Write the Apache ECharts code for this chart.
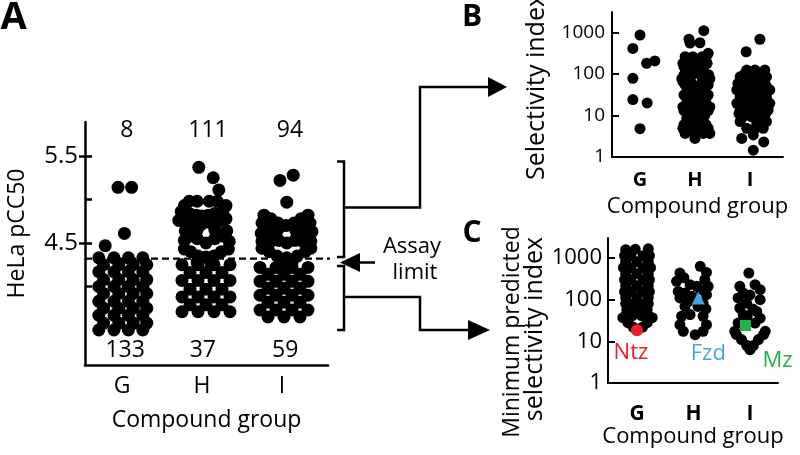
<!DOCTYPE html>
<html><head><meta charset="utf-8">
<script src="https://cdn.jsdelivr.net/npm/echarts@6/dist/echarts.min.js"></script>
<style>html,body{margin:0;padding:0;background:#fff}#c{width:800px;height:455px}</style>
</head><body><div id="c"></div>
<script>
// ---------- data ----------
const groups = ['G', 'H', 'I'];
const assayLimit = 4.32;
const countsAbove = [8, 111, 94];
const countsBelow = [133, 37, 59];
const pTicks = [4.0, 4.5, 5.0, 5.5];
const pLabels = [4.5, 5.5];
const logTicks = [10, 100, 1000];
const logLabels = [1, 10, 100, 1000];

// Panel A: HeLa pCC50, [x position within group swarm, pCC50]
const pcc50_G = [[0.71,4.33],[0.90,4.33],[1.08,4.33],[1.26,4.33],
[0.77,4.25],[0.96,4.25],[1.14,4.25],[1.31,4.25],
[0.71,4.17],[0.90,4.17],[1.08,4.17],[1.26,4.17],
[0.77,4.08],[0.96,4.08],[1.14,4.08],[1.31,4.08],
[0.71,4.00],[0.90,4.00],[1.08,4.00],[1.26,4.00],
[0.77,3.92],[0.96,3.92],[1.14,3.92],[1.31,3.92],
[0.71,3.83],[0.90,3.83],[1.08,3.83],[1.26,3.83],
[0.77,3.75],[0.96,3.75],[1.14,3.75],[1.31,3.75],
[0.71,3.67],[0.90,3.67],[1.08,3.67],[1.26,3.67],
[0.77,3.58],[0.96,3.58],[1.14,3.58],[1.31,3.58],
[0.71,3.50],[0.90,3.50],[1.08,3.50],[1.26,3.50],
[0.95,5.14],[1.12,5.14],[1.03,4.61],[0.79,4.47]];

const pcc50_H = [[1.96,5.37],[2.14,5.25],[2.21,5.11],
[1.84,4.98],[1.94,4.98],[2.09,4.98],[2.19,4.98],
[1.78,4.93],[2.30,4.93],
[1.74,4.86],[1.84,4.84],[1.93,4.82],[2.00,4.81],[2.08,4.82],[2.16,4.84],[2.26,4.86],
[1.79,4.75],[1.89,4.73],[2.00,4.72],[2.11,4.73],[2.21,4.75],[1.71,4.76],[2.30,4.78],
[1.94,4.65],[2.16,4.65],[1.94,4.55],[2.16,4.55],[2.05,4.50],[1.79,4.64],[2.31,4.64],[1.78,4.53],[2.34,4.52],[1.85,4.58],[2.26,4.58],
[1.78,4.43],[1.86,4.40],[1.95,4.35],[2.05,4.34],[2.15,4.35],[2.24,4.40],[2.33,4.43],
[1.94,4.28],[2.11,4.28],
[1.75,4.25],[1.95,4.25],[2.15,4.25],[2.35,4.25],
[1.85,4.16],[2.05,4.16],[2.25,4.16],
[1.75,4.07],[1.95,4.07],[2.15,4.07],[2.35,4.07],
[1.85,3.97],[2.05,3.97],[2.25,3.97],
[1.75,3.88],[1.95,3.88],[2.15,3.88],[2.35,3.88],
[1.85,3.79],[2.05,3.79],[2.25,3.79],
[1.75,3.71],[1.95,3.71],[2.15,3.71],[2.35,3.71]];

const pcc50_I = [[2.975,5.22],[3.14,5.28],[3.06,4.97],
[2.775,4.82],[2.86,4.78],[2.95,4.73],[3.05,4.70],[3.15,4.73],[3.24,4.78],[3.325,4.82],
[2.75,4.73],[2.84,4.68],[2.94,4.64],[3.175,4.64],[3.26,4.68],[3.35,4.73],
[2.74,4.61],[2.825,4.58],[3.30,4.59],[3.375,4.63],[2.75,4.52],[2.86,4.52],[2.96,4.53],[3.16,4.53],[3.26,4.52],[3.36,4.52],[3.06,4.50],
[2.75,4.44],[2.84,4.40],[2.94,4.35],[3.06,4.33],[3.19,4.35],[3.29,4.40],[3.36,4.44],
[3.0,4.27],[3.125,4.27],
[2.725,4.22],[2.925,4.22],[3.125,4.22],[3.325,4.22],
[2.825,4.14],[3.025,4.14],[3.225,4.14],
[2.725,4.06],[2.925,4.06],[3.125,4.06],[3.325,4.06],
[2.825,3.98],[3.025,3.98],[3.225,3.98],
[2.725,3.90],[2.925,3.90],[3.125,3.90],[3.325,3.90],
[2.825,3.82],[3.025,3.82],[3.225,3.82],
[2.725,3.73],[2.925,3.73],[3.125,3.73],[3.325,3.73],
[2.825,3.65],[3.025,3.65],[3.225,3.65]];

// Panel B: selectivity index
const si_G = [[1.0,860],[0.87,410],[1.12,180],[1.27,205],[0.87,78],[0.87,24],[1.13,20],[1.0,4.8]];
const si_H = [[2.16,1090],[1.89,680],[1.91,550],[2.09,560],[2.24,311],
[1.82,258],[1.96,258],[2.13,258],
[1.87,210],[2.05,210],[2.20,210],
[1.78,179],[1.91,179],[2.09,179],[2.22,179],
[1.80,150],[1.96,150],[2.15,150],
[1.85,123],[2.0,123],[2.15,123],
[1.80,95],[1.95,95],[2.10,95],[2.25,95],
[1.76,77],[1.87,77],[2.18,77],[2.27,77],
[1.78,65],[1.92,65],[2.13,65],
[1.82,54],[1.96,54],[2.09,54],[2.24,54],
[1.90,44],[2.02,44],[2.14,44],
[1.85,37],[2.04,37],[2.18,37],
[1.80,31],[2.24,31],
[1.91,26],[2.05,26],[2.18,26],
[1.85,20],[2.0,20],[2.2,20],
[1.78,16],[1.95,16],[2.15,16],[2.27,16],
[1.80,13],[1.95,13],[2.10,13],[2.24,13],
[1.87,10.2],[2.04,10.2],[2.18,10.2],
[1.85,8.5],[2.15,8.5],
[1.96,7.1],[2.09,7.1],
[1.80,6],[2.0,6],[2.2,6],
[1.78,4.9],[1.91,4.9],[2.09,4.9],[2.24,4.9],
[1.95,4.2],[2.1,4.2],
[1.82,3.7],[2.15,3.7],[2.27,3.7],
[2.0,2.8]];
const si_I = [[3.18,680],[2.93,340],
[2.94,123],[3.09,123],[3.27,123],
[2.90,100],[3.20,100],
[2.82,85],[3.0,85],[3.18,85],[3.30,85],
[2.85,70],[3.05,70],[3.22,70],
[2.78,59],[2.94,59],[3.12,59],[3.27,59],
[2.85,50],[3.05,50],[3.30,50],
[2.76,41],[2.91,41],[3.21,41],[3.36,41],
[2.90,34],[3.08,34],[3.24,34],
[2.82,28],[3.0,28],[3.15,28],[3.30,28],
[2.85,24],[3.05,24],[3.20,24],
[2.76,19.5],[2.91,19.5],[3.09,19.5],[3.27,19.5],[3.36,19.5],
[2.88,16],[3.05,16],[3.22,16],
[2.82,13.5],[2.96,13.5],[3.18,13.5],[3.33,13.5],
[2.80,11],[3.10,11],[3.28,11],
[2.87,9.3],[3.03,9.3],[3.24,9.3],
[2.82,7.1],[3.12,7.1],[3.30,7.1],
[2.94,4.9],[3.09,4.9],[3.24,4.9],
[2.85,2.8],[3.06,3.4],[3.25,2.3],[3.06,1.46]];

// Panel C: minimum predicted selectivity index
const minSI_G = [[0.80,1580],[0.97,1620],[1.20,1660],
[0.78,1135],[0.89,1135],[1.11,1135],[1.22,1135],
[0.80,815],[1.0,815],[1.2,815],
[0.76,585],[0.89,585],[1.11,585],[1.24,585],
[0.8,420],[1.0,420],[1.2,420],
[0.78,302],[0.89,302],[1.11,302],[1.22,302],
[0.8,217],[1.0,217],[1.2,217],
[0.78,156],[0.9,156],[1.1,156],[1.22,156],
[0.8,112],[1.0,112],[1.2,112],
[0.8,80],[0.92,80],[1.08,80],[1.2,80],
[0.82,58],[1.0,58],[1.18,58],
[0.8,41.5],[0.92,41.5],[1.08,41.5],[1.2,41.5],
[0.75,37],[1.27,37],[0.84,28],[1.18,28],[0.93,22],[1.10,22]];
const minSI_H = [[2.12,630],[2.23,450],[1.76,436],[1.83,337],[1.70,275],[2.20,302],[1.94,229],[2.06,209],[2.26,209],[1.73,158],[1.85,145],[2.23,132],[1.76,110],[1.91,91],[2.17,83],[1.85,69],[2.08,69],
[2.12,175],[1.97,120],[2.22,60],
[1.79,40],[1.94,44],[2.17,40],[1.76,25],[2.23,25],[1.82,17.4],[2.03,14.4],[2.17,17.4]];
const minSI_I = [[2.98,436],[3.09,229],[2.82,209],[2.88,145],[3.18,174],[2.79,110],[3.18,100],[2.94,83],[2.82,63],[3.12,52],[2.88,44],[3.18,36],[2.79,27.5],[3.09,27.5],
[3.0,130],[3.05,60],[2.95,40],
[2.73,17.4],[3.27,17.4],[2.76,14.5],[3.24,14.5],[2.85,11],[3.15,11],[2.94,8],[3.06,7.9],[3.0,6.3]];

const flaggedNames = ['Ntz', 'Fzd', 'Mz'];
const flaggedPoints = [[1.0,18.4],[2.085,110],[2.92,24]];

// ---------- chart ----------
const FONT = "'Open Sans', 'Liberation Sans', sans-serif";
const K = '#000';
const chart = echarts.init(document.getElementById('c'));

function dots(data, xi, yi, size) {
  return { type: 'scatter', xAxisIndex: xi, yAxisIndex: yi, data: data, symbolSize: size,
    itemStyle: { color: K, opacity: 1 }, silent: true, z: 3 };
}
function xAx(grid, min, max, lw, lab, nameGap, nameSize) {
  return { gridIndex: grid, type: 'value', min: min, max: max,
    axisLine: { show: true, onZero: false, lineStyle: { color: K, width: lw } },
    axisTick: { show: false }, splitLine: { show: false },
    axisLabel: Object.assign({ customValues: [1, 2, 3], formatter: v => groups[Math.round(v) - 1],
      color: K, fontFamily: FONT }, lab),
    name: 'Compound group', nameLocation: 'middle', nameGap: nameGap,
    nameTextStyle: { color: K, fontFamily: FONT, fontSize: nameSize } };
}
function logAx(grid, max, lw, labSize, margin) {
  return { gridIndex: grid, type: 'log', logBase: 10, min: 1, max: max,
    axisLine: { show: true, lineStyle: { color: K, width: lw } },
    axisTick: { show: true, inside: true, length: 7, customValues: logTicks, lineStyle: { color: K, width: lw } },
    axisLabel: { customValues: logLabels, formatter: v => String(Math.round(v)), color: K, fontFamily: FONT, fontSize: labSize, margin: margin },
    splitLine: { show: false }, minorTick: { show: false } };
}

const aboveX = [1.06, 2.075, 3.1], belowX = [1.04, 2.01, 3.04];
const flagStyles = [
  { symbol: 'circle', size: 12, color: '#ee1c24', offset: [-6, 22] },
  { symbol: 'triangle', size: 13, color: '#45a5e2', offset: [10, 56] },
  { symbol: 'rect', size: 11, color: '#1fb24b', offset: [32, 35] }
];
const allCounts = countsAbove.concat(countsBelow);

const series = [
  { type: 'line', xAxisIndex: 0, yAxisIndex: 0, data: [[0.5375, assayLimit], [3.69, assayLimit]],
    symbol: 'none', clip: false, silent: true, z: 1,
    lineStyle: { color: K, width: 2.2, type: [7, 4] } },
  dots(pcc50_G, 0, 0, 13), dots(pcc50_H, 0, 0, 13), dots(pcc50_I, 0, 0, 13),
  dots(si_G, 1, 2, 11), dots(si_H, 1, 2, 11), dots(si_I, 1, 2, 11),
  dots(minSI_G, 2, 3, 11), dots(minSI_H, 2, 3, 11), dots(minSI_I, 2, 3, 11),
  { type: 'scatter', xAxisIndex: 0, yAxisIndex: 0, symbolSize: 1, silent: true,
    itemStyle: { color: 'rgba(0,0,0,0)', opacity: 1 },
    data: countsAbove.map((c, i) => [aboveX[i], 5.79]).concat(countsBelow.map((c, i) => [belowX[i], 3.27])),
    label: { show: true, position: 'inside', color: K, opacity: 1, fontFamily: FONT, fontSize: 23,
      formatter: p => String(allCounts[p.dataIndex]) } }
];
flaggedPoints.forEach((pt, i) => {
  const st = flagStyles[i];
  series.push({ type: 'scatter', xAxisIndex: 2, yAxisIndex: 3, data: [pt], symbol: st.symbol,
    symbolSize: st.size, itemStyle: { color: st.color, opacity: 1 }, silent: true, z: 5,
    label: { show: true, position: 'inside', offset: st.offset, formatter: flaggedNames[i],
      color: st.color, fontFamily: FONT, fontSize: 22 } });
});

function txt(x, y, s, size, opts) {
  return { type: 'text', x: x, y: y, rotation: (opts && opts.rot) || 0, silent: true,
    style: { text: s, fill: (opts && opts.color) || K, fontFamily: FONT, fontSize: size,
      fontWeight: (opts && opts.bold) ? 'bold' : 'normal', textAlign: 'center', textVerticalAlign: 'middle' } };
}
function pl(points) { return { type: 'polyline', silent: true, shape: { points: points }, style: { stroke: K, lineWidth: 2.5, fill: null } }; }
function pg(points) { return { type: 'polygon', silent: true, shape: { points: points }, style: { fill: K } }; }
const R = Math.PI / 2;

chart.setOption({
  animation: false,
  backgroundColor: '#fff',
  grid: [
    { left: 85, top: 122, width: 243, height: 243 },
    { left: 612, top: 12, width: 171, height: 145 },
    { left: 608, top: 238, width: 170, height: 145 }
  ],
  xAxis: [
    xAx(0, 0.5375, 3.575, 2.5, { fontSize: 23, margin: 10 }, 44, 23),
    xAx(1, 0.491, 3.6, 2, { fontSize: 20, fontWeight: 'bold', margin: 13 }, 39, 22),
    xAx(2, 0.487, 3.496, 2, { fontSize: 21, fontWeight: 'bold', margin: 21 }, 42, 22)
  ],
  yAxis: [
    { gridIndex: 0, type: 'value', min: 3.098, max: 5.891,
      axisLine: { show: true, onZero: false, lineStyle: { color: K, width: 2.5 } },
      axisTick: { show: true, inside: true, length: 7, customValues: pTicks, lineStyle: { color: K, width: 2.5 } },
      axisLabel: { customValues: pLabels, formatter: v => v.toFixed(1), color: K, fontFamily: FONT, fontSize: 24, margin: 7 },
      splitLine: { show: false } },
    { gridIndex: 0, type: 'value', min: 3.098, max: 5.891, position: 'left',
      axisLine: { show: false },
      axisTick: { show: true, inside: false, length: 6, customValues: pLabels, lineStyle: { color: K, width: 2.5 } },
      axisLabel: { show: false }, splitLine: { show: false } },
    logAx(1, 3076, 2, 19, 7),
    logAx(2, 3020, 2, 22, 6)
  ],
  series: series,
  graphic: [
    txt(13.5, 18, 'A', 38, { bold: true }),
    txt(472, 17.5, 'B', 30, { bold: true }),
    txt(472, 233, 'C', 30, { bold: true }),
    txt(17, 233.5, 'HeLa pCC50', 23, { rot: R }),
    txt(537, 87, 'Selectivity index', 25, { rot: R }),
    txt(512, 332, 'Minimum predicted', 23, { rot: R }),
    txt(535, 329, 'selectivity index', 25, { rot: R }),
    txt(412, 247, 'Assay', 22),
    txt(415, 273, 'limit', 22),
    pl([[337, 161.5], [344, 161.5], [344, 257], [337, 257]]),
    pl([[337, 266], [344, 266], [344, 330], [337, 330]]),
    pl([[344, 207.5], [420, 207.5], [420, 87], [490, 87]]),
    pg([[488, 77], [507, 87], [488, 97]]),
    pl([[344, 297], [420, 297], [420, 330], [470, 330]]),
    pg([[468, 320], [490, 330], [468, 340]]),
    pl([[358, 262.5], [375, 262.5]]),
    pg([[340, 262.5], [360, 253], [360, 272]])
  ]
});
</script></body></html>
